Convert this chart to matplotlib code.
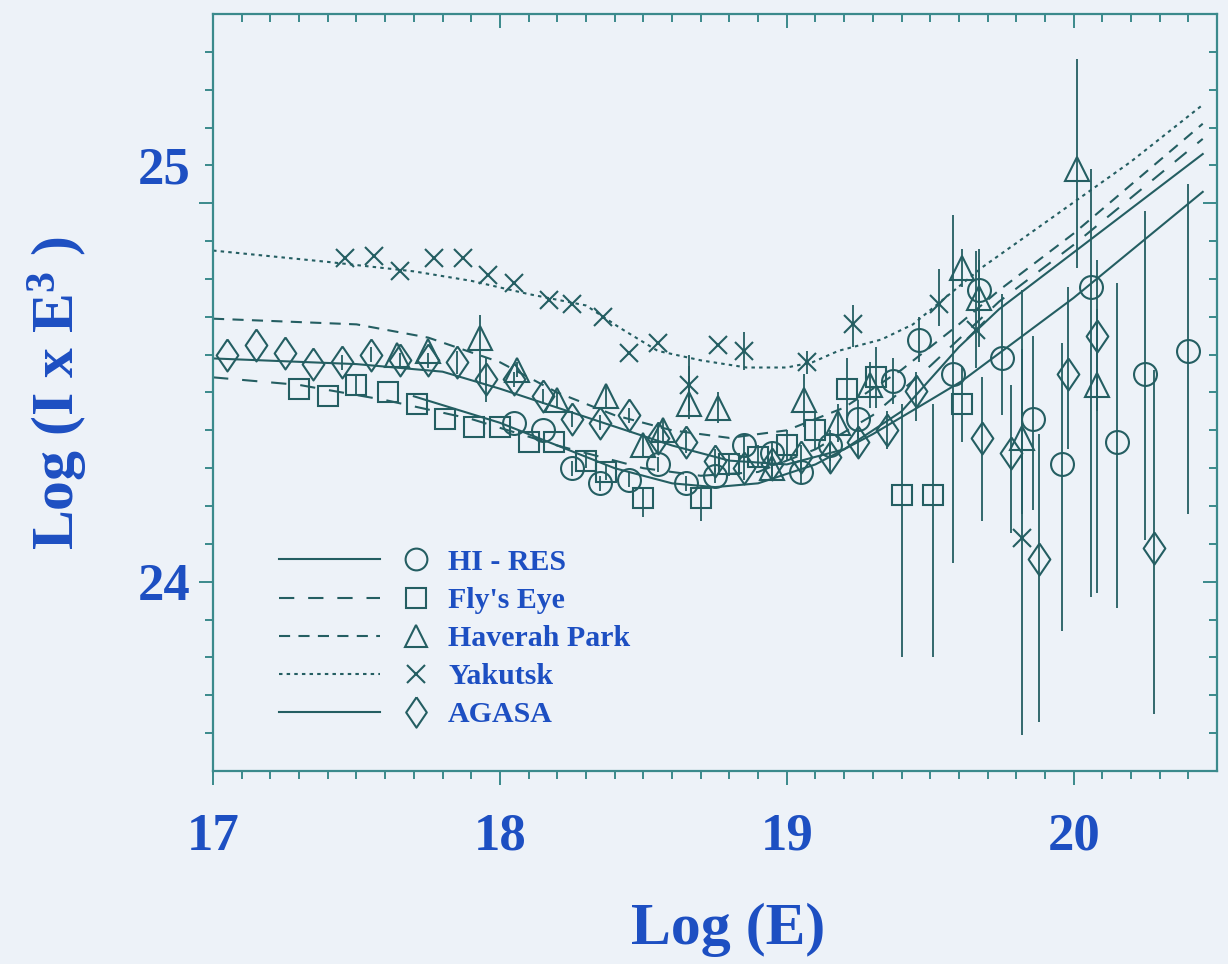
import numpy as np
import matplotlib.pyplot as plt
from matplotlib.lines import Line2D
from matplotlib.legend_handler import HandlerBase
from matplotlib.transforms import ScaledTranslation

INK = '#245e62'
AXC = '#3b8a8c'
BLUE = '#1d4fc2'
BG = '#edf2f8'

plt.rcParams['font.family'] = ['Liberation Serif', 'DejaVu Serif']
plt.rcParams['font.weight'] = 'bold'
plt.rcParams['axes.labelweight'] = 'bold'
plt.rcParams['mathtext.fontset'] = 'custom'
plt.rcParams['mathtext.rm'] = 'Liberation Serif:bold'
plt.rcParams['mathtext.it'] = 'Liberation Serif:bold'
plt.rcParams['mathtext.bf'] = 'Liberation Serif:bold'
plt.rcParams['lines.scale_dashes'] = False

# ---- measured spectra: log E, log(I E^3), error bars (down, up)
hires_x = [18.05, 18.15, 18.25, 18.35, 18.45, 18.55, 18.65, 18.75, 18.85, 18.95, 19.05, 19.15,
           19.25, 19.37, 19.46, 19.58, 19.67, 19.75, 19.86, 19.96, 20.06, 20.15, 20.25, 20.40]
hires_y = [24.42, 24.40, 24.30, 24.26, 24.27, 24.31, 24.26, 24.28, 24.36, 24.34, 24.29, 24.36,
           24.43, 24.53, 24.64, 24.55, 24.77, 24.59, 24.43, 24.31, 24.78, 24.37, 24.55, 24.61]
hires_lo = [0, 0, 0.02, 0.02, 0.02, 0.02, 0.02, 0.02, 0.03, 0.03, 0.03, 0.04,
            0.05, 0.06, 0.06, 0.50, 0.08, 0.15, 0.24, 0.44, 0.82, 0.44, 0.44, 0.43]
hires_hi = [0, 0, 0.02, 0.02, 0.02, 0.02, 0.02, 0.02, 0.03, 0.03, 0.03, 0.04,
            0.05, 0.06, 0.06, 0.42, 0.08, 0.17, 0.22, 0.32, 0.31, 0.42, 0.43, 0.44]

fly_x = [17.30, 17.40, 17.50, 17.61, 17.71, 17.81, 17.91, 18.00, 18.10, 18.19, 18.30, 18.37,
         18.50, 18.70, 18.80, 18.90, 19.00, 19.10, 19.21, 19.31, 19.40, 19.51, 19.61]
fly_y = [24.51, 24.49, 24.52, 24.50, 24.47, 24.43, 24.41, 24.41, 24.37, 24.37, 24.32, 24.29,
         24.22, 24.22, 24.31, 24.33, 24.36, 24.40, 24.51, 24.54, 24.23, 24.23, 24.47]
fly_lo = [0, 0, 0.03, 0, 0, 0, 0, 0, 0, 0, 0.02, 0.02,
          0.05, 0.06, 0.03, 0.03, 0.04, 0.05, 0.08, 0.08, 0.43, 0.43, 0.10]
fly_hi = [0, 0, 0.03, 0, 0, 0, 0, 0, 0, 0, 0.02, 0.02,
          0.03, 0.03, 0.03, 0.03, 0.04, 0.05, 0.08, 0.08, 0.24, 0.24, 0.10]

hp_x = [17.64, 17.75, 17.93, 18.06, 18.20, 18.37, 18.50, 18.57, 18.66, 18.76, 18.95, 19.06,
        19.18, 19.29, 19.61, 19.67, 19.82, 20.01, 20.08]
hp_y = [24.60, 24.61, 24.645, 24.56, 24.48, 24.49, 24.36, 24.40, 24.47, 24.46, 24.30, 24.48,
        24.42, 24.52, 24.83, 24.75, 24.38, 25.09, 24.52]
hp_lo = [0, 0, 0.12, 0.02, 0.02, 0.03, 0.03, 0.03, 0.04, 0.04, 0.03, 0.07,
         0.05, 0.06, 0.05, 0.13, 0.20, 0.26, 0.55]
hp_hi = [0, 0, 0.06, 0.02, 0.02, 0.03, 0.03, 0.03, 0.10, 0.04, 0.03, 0.07,
         0.05, 0.06, 0.05, 0.13, 0.39, 0.29, 0.20]

yak_x = [17.46, 17.56, 17.65, 17.77, 17.87, 17.96, 18.05, 18.17, 18.25, 18.36, 18.45, 18.55,
         18.66, 18.76, 18.85, 19.07, 19.23, 19.53, 19.66, 19.82]
yak_y = [24.855, 24.86, 24.82, 24.855, 24.855, 24.81, 24.79, 24.745, 24.735, 24.70, 24.605, 24.63,
         24.52, 24.625, 24.61, 24.58, 24.68, 24.735, 24.665, 24.115]
yak_lo = [0, 0, 0, 0, 0, 0, 0, 0, 0, 0, 0, 0,
          0.07, 0, 0.05, 0.03, 0.06, 0.06, 0.10, 0.52]
yak_hi = [0, 0, 0, 0, 0, 0, 0, 0, 0, 0, 0, 0,
          0.08, 0, 0.05, 0.03, 0.05, 0.09, 0.21, 0.50]

agasa_x = [17.05, 17.15, 17.25, 17.35, 17.45, 17.55, 17.65, 17.75, 17.85, 17.95, 18.05, 18.15,
           18.25, 18.35, 18.45, 18.55, 18.65, 18.75, 18.85, 18.95, 19.05, 19.15, 19.25, 19.35,
           19.45, 19.68, 19.78, 19.88, 19.98, 20.08, 20.28]
agasa_y = [24.60, 24.625, 24.605, 24.575, 24.58, 24.60, 24.585, 24.585, 24.58, 24.535, 24.535, 24.49,
           24.43, 24.42, 24.44, 24.38, 24.37, 24.32, 24.30, 24.31, 24.33, 24.33, 24.37, 24.40,
           24.505, 24.38, 24.34, 24.06, 24.55, 24.65, 24.09]
agasa_lo = [0, 0, 0, 0, 0.02, 0.02, 0.02, 0.02, 0.03, 0.06, 0.02, 0.02,
            0.02, 0.02, 0.02, 0.04, 0.03, 0.03, 0.03, 0.03, 0.03, 0.04, 0.04, 0.05,
            0.08, 0.22, 0.21, 0.43, 0.20, 0.20, 0.44]
agasa_hi = [0, 0, 0, 0, 0.02, 0.02, 0.02, 0.02, 0.03, 0.06, 0.02, 0.02,
            0.02, 0.02, 0.02, 0.04, 0.03, 0.03, 0.03, 0.03, 0.03, 0.04, 0.04, 0.05,
            0.05, 0.16, 0.18, 0.33, 0.23, 0.20, 0.47]

# ---- fitted curves for each experiment
hires_fit_x = [17.70, 18.00, 18.20, 18.40, 18.60, 18.75, 18.90, 19.10, 19.30, 19.50, 19.61, 20.00, 20.45]
hires_fit_y = [24.49, 24.42, 24.36, 24.30, 24.26, 24.25, 24.26, 24.31, 24.39, 24.48, 24.53, 24.75, 25.03]

fly_fit_x = [17.00, 17.30, 17.60, 17.90, 18.20, 18.50, 18.70, 18.90, 19.10, 19.30, 19.50, 19.74, 20.00, 20.45]
fly_fit_y = [24.54, 24.52, 24.48, 24.43, 24.36, 24.30, 24.28, 24.29, 24.35, 24.44, 24.57, 24.74, 24.89, 25.17]

hp_fit_x = [17.00, 17.50, 17.75, 18.00, 18.20, 18.40, 18.60, 18.80, 19.00, 19.20, 19.40, 19.60, 19.74, 20.00, 20.45]
hp_fit_y = [24.695, 24.68, 24.645, 24.58, 24.50, 24.44, 24.40, 24.38, 24.40, 24.46, 24.56, 24.68, 24.77, 24.92, 25.21]

yak_fit_x = [17.00, 17.40, 17.70, 17.90, 18.10, 18.30, 18.42, 18.55, 18.70, 18.86, 19.00, 19.09,
             19.18, 19.33, 19.44, 19.68, 20.20, 20.45]
yak_fit_y = [24.875, 24.845, 24.82, 24.795, 24.76, 24.73, 24.67, 24.61, 24.585, 24.566, 24.566, 24.58,
             24.61, 24.64, 24.68, 24.83, 25.11, 25.26]

agasa_fit_x = [17.00, 17.50, 17.80, 18.00, 18.20, 18.40, 18.60, 18.80, 19.00, 19.20, 19.40, 19.60, 19.74, 20.00, 20.45]
agasa_fit_y = [24.59, 24.575, 24.555, 24.51, 24.46, 24.41, 24.36, 24.32, 24.31, 24.35, 24.45, 24.62, 24.72, 24.87, 25.13]

names = ['HI - RES', "Fly's Eye", 'Haverah Park', 'Yakutsk', 'AGASA']

# open diamond, a bit wider than matplotlib's thin 'd'
DIAMOND = [(0, 1), (0.68, 0), (0, -1), (-0.68, 0), (0, 1)]


class LineThenMarker(HandlerBase):
    # legend entry: line sample, then the hollow marker to its right
    def create_artists(self, legend, orig, xdescent, ydescent, width, height, fontsize, trans):
        yc = height / 2 - ydescent
        seg = Line2D([], [])
        seg.update_from(orig)
        seg.set_data([-xdescent, -xdescent + 0.66 * width], [yc, yc])
        seg.set_marker('None')
        mk = Line2D([], [])
        mk.update_from(orig)
        mk.set_data([-xdescent + 0.9 * width], [yc])
        mk.set_linestyle('None')
        seg.set_transform(trans)
        mk.set_transform(trans)
        return [seg, mk]


fig = plt.figure(figsize=(12.28, 9.64), dpi=100, facecolor=BG)
ax = fig.add_axes([0.1735, 0.2002, 0.8176, 0.7853], facecolor=BG)

series = [
    (hires_x, hires_y, hires_lo, hires_hi, hires_fit_x, hires_fit_y, 'o', 16.5, '-'),
    (fly_x, fly_y, fly_lo, fly_hi, fly_fit_x, fly_fit_y, 's', 15, (0, (11, 10))),
    (hp_x, hp_y, hp_lo, hp_hi, hp_fit_x, hp_fit_y, '^', 17, (0, (8, 6))),
    (yak_x, yak_y, yak_lo, yak_hi, yak_fit_x, yak_fit_y, 'x', 13, (0, (2.5, 3))),
    (agasa_x, agasa_y, agasa_lo, agasa_hi, agasa_fit_x, agasa_fit_y, DIAMOND, 23, '-'),
]

proxies = []
for (x, y, lo, hi, fx, fy, mk, ms, ls) in series:
    ax.plot(fx, fy, color=INK, lw=1.5, linestyle=ls, zorder=2)
    ax.errorbar(x, y, yerr=[lo, hi], fmt='none', ecolor=INK, elinewidth=1.3, capsize=0, zorder=3)
    ax.plot(x, y, linestyle='none', marker=mk, ms=ms, mfc='none', mec=INK, mew=1.5, zorder=4)
    proxies.append(Line2D([], [], color=INK, lw=1.5, linestyle=ls, marker=mk,
                          ms=ms * 0.95, mfc='none', mec=INK, mew=1.5))

ax.set_xlim(17, 20.5)
ax.set_ylim(23.5, 25.5)

ax.set_xticks([17, 18, 19, 20])
ax.set_xticks(np.arange(17.1, 20.5, 0.1), minor=True)
ax.set_yticks([24, 25])
ax.set_yticks(np.arange(23.6, 25.5, 0.1), minor=True)

for s in ax.spines.values():
    s.set_color(AXC)
    s.set_linewidth(1.6)

ax.tick_params(which='both', direction='out', top=False, right=False, color=AXC, width=1.4,
               labelcolor=BLUE)
ax.tick_params(which='major', length=10)
ax.tick_params(which='minor', length=6)
ax.tick_params(axis='x', which='major', labelsize=38, pad=20)
ax.tick_params(axis='y', which='major', labelsize=38, pad=6)
for lbl in ax.get_xticklabels() + ax.get_yticklabels():
    lbl.set_fontweight('bold')

# inward ticks on the top and right frame
top = ax.secondary_xaxis('top')
top.set_xticks([17, 18, 19, 20])
top.set_xticks(np.arange(17.1, 20.5, 0.1), minor=True)
top.tick_params(which='both', direction='in', color=AXC, width=1.4, labeltop=False)
top.tick_params(which='major', length=10)
top.tick_params(which='minor', length=6)
top.spines['top'].set_visible(False)

right = ax.secondary_yaxis('right')
right.set_yticks([24, 25])
right.set_yticks(np.arange(23.6, 25.5, 0.1), minor=True)
right.tick_params(which='both', direction='in', color=AXC, width=1.4, labelright=False)
right.tick_params(which='major', length=10)
right.tick_params(which='minor', length=6)
right.spines['right'].set_visible(False)

# the "25" label sits one minor step above its tick
ytk = ax.yaxis.get_major_ticks()
ytk[1].label1.set_transform(ytk[1].label1.get_transform() +
                            ScaledTranslation(0, 0.38, fig.dpi_scale_trans))

ax.set_xlabel('Log (E)', fontsize=43, fontweight='bold', color=BLUE, va='center')
ax.xaxis.set_label_coords(0.513, -0.21)
ax.set_ylabel(r'Log (I x E$^3$ )', fontsize=43, fontweight='bold', color=BLUE, va='center')
ax.yaxis.set_label_coords(-0.155, 0.5)

leg = ax.legend(proxies, names, handler_map={Line2D: LineThenMarker()},
                loc='center left', bbox_to_anchor=(0.066, 0.175), frameon=False,
                fontsize=21.5, handlelength=5.1, handletextpad=0.55, labelspacing=0.37,
                borderpad=0, borderaxespad=0)
for t in leg.get_texts():
    t.set_color(BLUE)
    t.set_fontweight('bold')

fig.savefig('out.png', dpi=100, facecolor=BG)
